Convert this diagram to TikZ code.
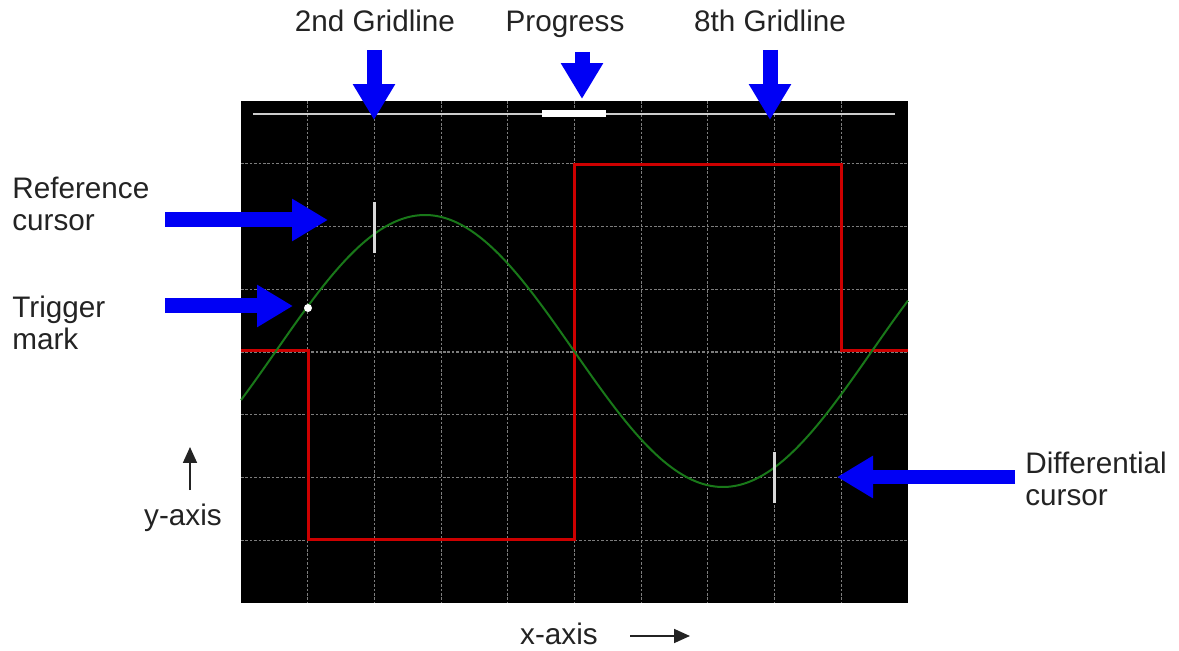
\documentclass[tikz,border=0pt]{standalone}
\usepackage{fontspec}
\setmainfont{Liberation Sans}
\usetikzlibrary{arrows.meta}
\definecolor{arrowblue}{RGB}{0,0,245}
\definecolor{tracered}{RGB}{205,0,0}
\definecolor{tracegreen}{RGB}{25,120,25}
\definecolor{gridgray}{RGB}{125,125,125}
\definecolor{inkgray}{RGB}{35,35,35}

\begin{document}
\begin{tikzpicture}[
      x=0.02cm, y=-0.02cm,
      >=Latex,
      txt/.style={font=\fontsize{16.9}{18.2}\selectfont, text=inkgray, inner sep=0pt, align=left},
      fatarrow/.style={draw=arrowblue, line width=0.3cm, -{Triangle[width=0.8cm,length=0.72cm]}},
      thinarrow/.style={draw=inkgray, line width=1pt, -{Triangle[width=0.28cm,length=0.32cm]}},
      gridline/.style={draw=gridgray, line width=0.6pt, dash pattern=on 1.5pt off 1pt},
      cursor/.style={draw=white!85!black, line width=0.06cm}
    ]
    \useasboundingbox (0,0) rectangle (1179,651);

    % scope screen
    \fill[black] (241,101) rectangle (908,603);
    \foreach \k in {1,...,9}
      \draw[gridline] ({241+66.7*\k},101) -- ({241+66.7*\k},603);
    \foreach \k in {1,...,7}
      \draw[gridline] (241,{101+62.75*\k}) -- (908,{101+62.75*\k});

    % progress bar
    \draw[white!80!black, line width=0.05cm] (253,114) -- (895,114);
    \draw[white, line width=0.14cm] (542,114) -- (606,114);

    % traces
    \draw[tracered, line width=0.06cm]
      (241,351) -- (308,351) -- (308,539) -- (574,539) -- (574,165)
      -- (841,165) -- (841,351) -- (908,351);
    \draw[tracegreen, line width=0.04cm, smooth, samples=120, domain=241:908]
      plot (\x, {351-136*sin((574-\x)/596*360)});

    % cursors and trigger mark
    \draw[cursor] (374,202) -- (374,253);
    \draw[cursor] (774,452) -- (774,503);
    \fill[white] (308,308) circle (0.08cm);

    % labels
    \node[txt, anchor=west] (refl)  at (12,204)  {Reference\\cursor};
    \node[txt, anchor=west] (trigl) at (12,323)  {Trigger\\mark};
    \node[txt, anchor=west] (diffl) at (1025,479) {Differential\\cursor};
    \node[txt, anchor=base] (grid2) at (375,32)  {2nd Gridline};
    \node[txt, anchor=base] (prog)  at (565,32)  {Progress};
    \node[txt, anchor=base] (grid8) at (770,32)  {8th Gridline};
    \node[txt, anchor=base] (xax)   at (559,644) {x-axis};
    \node[txt] (yax)   at (183,518) {y-axis};

    % arrow ends
    \coordinate (refs)   at (165,220);  \coordinate (refe)   at (328,220);
    \coordinate (trigs)  at (165,306);  \coordinate (trige)  at (293,306);
    \coordinate (diffs)  at (1015,477); \coordinate (diffe)  at (837,477);
    \coordinate (grid2s) at (374,50);   \coordinate (grid2e) at (374,120);
    \coordinate (progs)  at (582,52);   \coordinate (proge)  at (582,99);
    \coordinate (grid8s) at (770,50);   \coordinate (grid8e) at (770,120);
    \coordinate (xs) at (630,636);      \coordinate (xe) at (690,636);
    \coordinate (ys) at (190,490);      \coordinate (ye) at (190,447);

    \foreach \a/\b in {refs/refe, trigs/trige, diffs/diffe, grid2s/grid2e, progs/proge, grid8s/grid8e}
      \draw[fatarrow] (\a) -- (\b);
    \foreach \a/\b in {xs/xe, ys/ye}
      \draw[thinarrow] (\a) -- (\b);
  \end{tikzpicture}
\end{document}
